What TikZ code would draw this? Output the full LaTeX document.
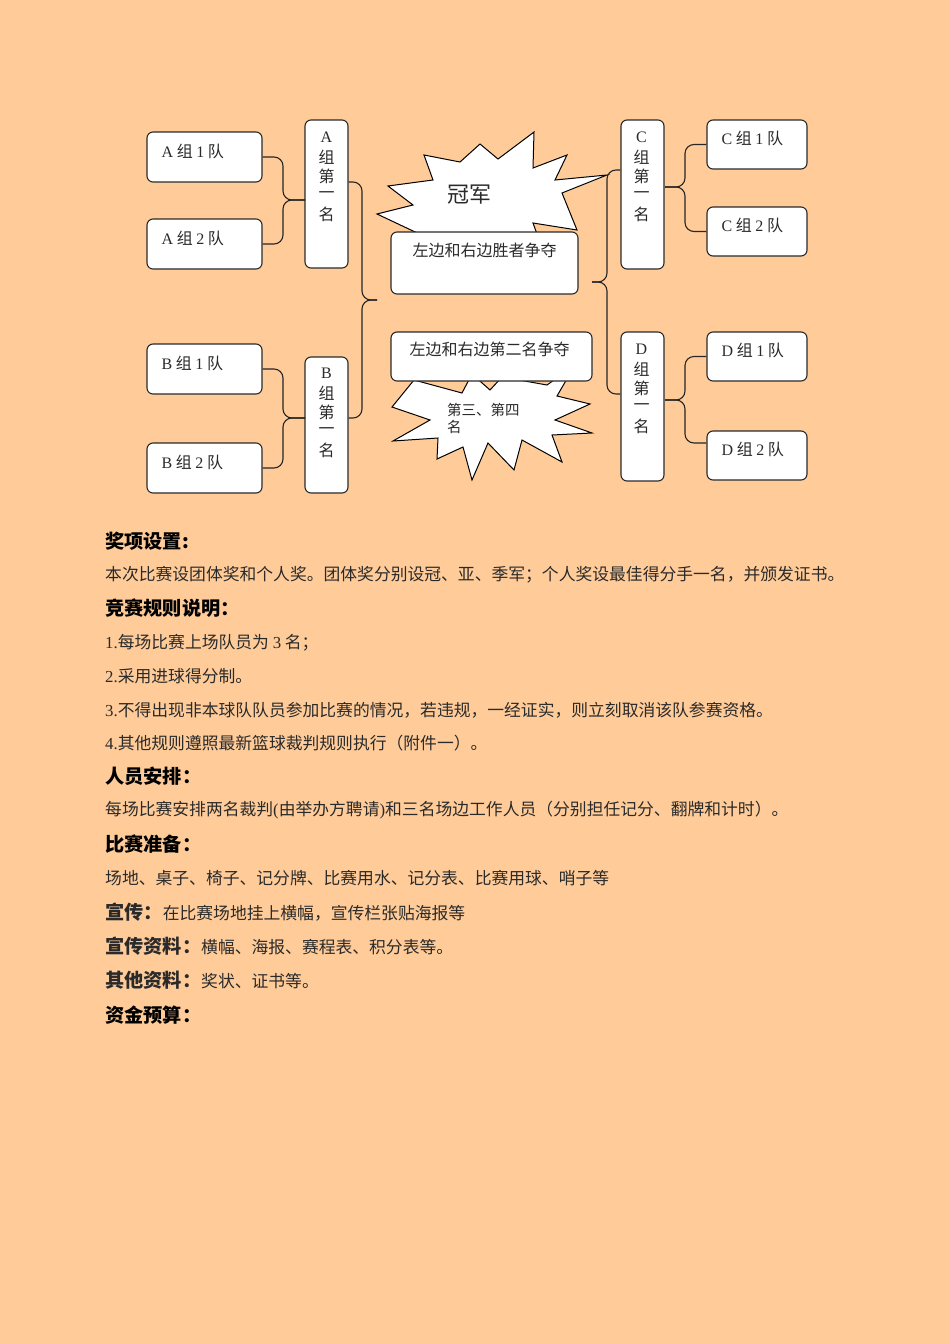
\documentclass[tikz,border=0pt]{standalone}
\usepackage{fontspec}
\setmainfont{Noto Sans CJK SC}
\newfontfamily\latinfont{Liberation Serif}
\newcommand\latn[1]{{\latinfont #1}}
\newcommand\hd[1]{{\bfseries\fontsize{19.2}{22}\selectfont #1}}
\usepackage{tikz}
\usetikzlibrary{calc}
\definecolor{page}{HTML}{FFCC99}
\definecolor{ink}{HTML}{2A2A2A}

\begin{document}
\begin{tikzpicture}[x=1pt,y=-1pt,
    box/.style={draw=ink, fill=white, line width=1.1pt, rounded corners=6pt, inner sep=0pt},
    lbl/.style={text=ink, inner sep=0pt, font=\fontsize{16}{19}\selectfont},
    brace/.style={draw=black!85, line width=1.1pt, rounded corners=9pt},
    burst/.style={draw=black, fill=white, line width=1pt, line join=miter},
    body/.style={anchor=west, inner sep=0pt, text=ink, font=\fontsize{16.8}{20}\selectfont},
    head/.style={anchor=west, inner sep=0pt, text=black, font=\bfseries\fontsize{19.2}{22}\selectfont}]
  \fill[page] (0,0) rectangle (950,1344);
  \useasboundingbox (0,0) rectangle (950,1344);

  \draw[burst] (377,214) -- (413,205) -- (388,186) -- (433,180) -- (424,155) -- (460,162)
        -- (480,144) -- (498,159) -- (534,132) -- (533,168) -- (567,155) -- (555,180)
        -- (607,175) -- (562,193) -- (577,230) -- (533,223) -- (541,245) -- (505,245)
        -- (470,268) -- (430,239) -- cycle;
  \draw[burst] (392,407) -- (414,380) -- (462,393) -- (472,374) -- (490,390) -- (502,377)
        -- (547,385) -- (575,365) -- (557,396) -- (590,404) -- (555,420) -- (592,433)
        -- (552,435) -- (562,462) -- (522,440) -- (514,470) -- (488,443) -- (472,480)
        -- (463,447) -- (437,459) -- (438,438) -- (393,441) -- (430,420) -- cycle;
  \node[text=ink, inner sep=0pt, font=\fontsize{22}{24}\selectfont] (champ) at (469,195) {冠军};
  \node[anchor=north west, align=left, text=ink, inner sep=0pt, font=\fontsize{14.5}{17}\selectfont] (third) at (447,403) {第三、第四\\名};

  \node[box, minimum width=115pt, minimum height=50pt] (A1) at (204.5,157) {};
  \node[box, minimum width=115pt, minimum height=50pt] (A2) at (204.5,244) {};
  \node[box, minimum width=115pt, minimum height=50pt] (B1) at (204.5,369) {};
  \node[box, minimum width=115pt, minimum height=50pt] (B2) at (204.5,468) {};
  \node[box, minimum width=43pt, minimum height=148pt] (Aname) at (326.5,194) {};
  \node[box, minimum width=43pt, minimum height=136pt] (Bname) at (326.5,425) {};
  \node[box, minimum width=43pt, minimum height=149pt] (Cname) at (642.5,194.5) {};
  \node[box, minimum width=43pt, minimum height=149pt] (Dname) at (642.5,406.5) {};
  \node[box, minimum width=100pt, minimum height=49pt] (C1) at (757,144.5) {};
  \node[box, minimum width=100pt, minimum height=49pt] (C2) at (757,231.5) {};
  \node[box, minimum width=100pt, minimum height=49pt] (D1) at (757,356.5) {};
  \node[box, minimum width=100pt, minimum height=49pt] (D2) at (757,455.5) {};
  \node[box, minimum width=187pt, minimum height=62pt] (final) at (484.5,263) {};
  \node[box, minimum width=201pt, minimum height=49pt] (second) at (491.5,356.5) {};

  \node[lbl, anchor=west] (A1t) at ($(A1.north west)+(15,20)$) {\latn{A} 组 \latn{1} 队};
  \node[lbl, anchor=west] (A2t) at ($(A2.north west)+(15,20)$) {\latn{A} 组 \latn{2} 队};
  \node[lbl, anchor=west] (B1t) at ($(B1.north west)+(15,20)$) {\latn{B} 组 \latn{1} 队};
  \node[lbl, anchor=west] (B2t) at ($(B2.north west)+(15,20)$) {\latn{B} 组 \latn{2} 队};
  \node[lbl, anchor=west] (C1t) at ($(C1.north west)+(15,19)$) {\latn{C} 组 \latn{1} 队};
  \node[lbl, anchor=west] (C2t) at ($(C2.north west)+(15,19)$) {\latn{C} 组 \latn{2} 队};
  \node[lbl, anchor=west] (D1t) at ($(D1.north west)+(15,19)$) {\latn{D} 组 \latn{1} 队};
  \node[lbl, anchor=west] (D2t) at ($(D2.north west)+(15,19)$) {\latn{D} 组 \latn{2} 队};
  \node[lbl] (finalt) at ($(final.north)+(0,19)$) {左边和右边胜者争夺};
  \node[lbl] (secondt) at ($(second.north)+(-2,18)$) {左边和右边第二名争夺};

  \foreach \ch [count=\i] in {\latn{A},组,第,一,名}
    \node[lbl] (Av\i) at ($(Aname.north)+(0,18+19.3*\i-19.3)$) {\ch};
  \foreach \ch [count=\i] in {\latn{B},组,第,一,名}
    \node[lbl] (Bv\i) at ($(Bname.north)+(0,17+19.3*\i-19.3)$) {\ch};
  \foreach \ch [count=\i] in {\latn{C},组,第,一,名}
    \node[lbl] (Cv\i) at ($(Cname.north)+(-1,18+19.3*\i-19.3)$) {\ch};
  \foreach \ch [count=\i] in {\latn{D},组,第,一,名}
    \node[lbl] (Dv\i) at ($(Dname.north)+(-1,18+19.3*\i-19.3)$) {\ch};

  \coordinate (Atip) at (305,200);
  \coordinate (Btip) at (305,418);
  \coordinate (ABtip) at (377,300);
  \coordinate (Ctip) at (665,187);
  \coordinate (Dtip) at (665,400);
  \coordinate (CDtip) at (592,282);
  \draw[brace] (A1.east) -| ([xshift=-22pt]Atip) -- (Atip);
  \draw[brace] (A2.east) -| ([xshift=-22pt]Atip) -- (Atip);
  \draw[brace] (B1.east) -| ([xshift=-22pt]Btip) -- (Btip);
  \draw[brace] (B2.east) -| ([xshift=-22pt]Btip) -- (Btip);
  \draw[brace] ([yshift=12pt]Aname.east) -| ([xshift=-15pt]ABtip) -- (ABtip);
  \draw[brace] ([yshift=7pt]Bname.east) -| ([xshift=-15pt]ABtip) -- (ABtip);
  \draw[brace] (C1.west) -| ([xshift=20pt]Ctip) -- (Ctip);
  \draw[brace] (C2.west) -| ([xshift=20pt]Ctip) -- (Ctip);
  \draw[brace] (D1.west) -| ([xshift=20pt]Dtip) -- (Dtip);
  \draw[brace] ([yshift=12.5pt]D2.west) -| ([xshift=20pt]Dtip) -- (Dtip);
  \draw[brace] ([yshift=24.5pt]Cname.west) -| ([xshift=15pt]CDtip) -- (CDtip);
  \draw[brace] ([yshift=12.5pt]Dname.west) -| ([xshift=15pt]CDtip) -- (CDtip);

  \node[head] (h1) at (105,541) {奖项设置:};
  \node[body] (t1) at (105,575) {本次比赛设团体奖和个人奖。团体奖分别设冠、亚、季军；个人奖设最佳得分手一名，并颁发证书。};
  \node[head] (h2) at (105,608) {竞赛规则说明：};
  \node[body] (t2) at (105,643) {\latn{1.}每场比赛上场队员为 \latn{3} 名；};
  \node[body] (t3) at (105,676) {\latn{2.}采用进球得分制。};
  \node[body] (t4) at (105,710) {\latn{3.}不得出现非本球队队员参加比赛的情况，若违规，一经证实，则立刻取消该队参赛资格。};
  \node[body] (t5) at (105,743) {\latn{4.}其他规则遵照最新篮球裁判规则执行（附件一）。};
  \node[head] (h3) at (105,776) {人员安排：};
  \node[body] (t6) at (105,810) {每场比赛安排两名裁判\latn{(}由举办方聘请\latn{)}和三名场边工作人员（分别担任记分、翻牌和计时）。};
  \node[head] (h4) at (105,844) {比赛准备：};
  \node[body] (t7) at (105,878) {场地、桌子、椅子、记分牌、比赛用水、记分表、比赛用球、哨子等};
  \node[body] (t8) at (105,912) {\hd{宣传：}在比赛场地挂上横幅，宣传栏张贴海报等};
  \node[body] (t9) at (105,946) {\hd{宣传资料：}横幅、海报、赛程表、积分表等。};
  \node[body] (t10) at (105,980) {\hd{其他资料：}奖状、证书等。};
  \node[head] (h5) at (105,1015) {资金预算：};
\end{tikzpicture}
\end{document}
